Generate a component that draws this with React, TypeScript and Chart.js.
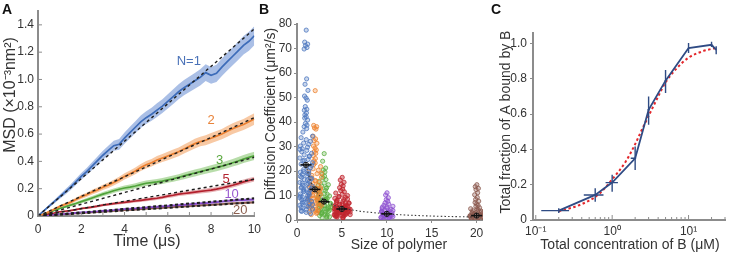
import React, { useEffect, useRef } from 'react';
import { Chart, registerables } from 'chart.js';
Chart.register(...registerables);

const FONT = "'Liberation Sans', Arial, Helvetica, sans-serif";
const TEXT = '#333333';
const AXIS = '#8c8c8c';

// ---------------- Panel A : MSD vs time ----------------
const A_TIME = [0,0.25,0.5,0.75,1,1.25,1.5,1.75,2,2.25,2.5,2.75,3,3.25,3.5,3.75,4,4.25,4.5,4.75,5,5.25,5.5,5.75,6,6.25,6.5,6.75,7,7.25,7.5,7.75,8,8.25,8.5,8.75,9,9.25,9.5,9.75,10];
const A_N1 = [0,0.035,0.07,0.105,0.14,0.175,0.21,0.25,0.29,0.325,0.365,0.405,0.445,0.48,0.515,0.525,0.57,0.61,0.65,0.69,0.72,0.745,0.775,0.805,0.84,0.875,0.91,0.94,0.965,0.99,1.015,1.05,1.03,1.045,1.09,1.13,1.17,1.21,1.25,1.28,1.32];
const A_N2 = [0,0.015,0.03,0.05,0.07,0.085,0.1,0.12,0.14,0.155,0.175,0.19,0.21,0.225,0.245,0.265,0.29,0.31,0.33,0.355,0.375,0.39,0.41,0.425,0.44,0.455,0.47,0.49,0.51,0.53,0.545,0.555,0.57,0.585,0.6,0.62,0.64,0.655,0.67,0.69,0.71];
const A_N3 = [0,0.013,0.027,0.041,0.055,0.067,0.08,0.092,0.105,0.118,0.132,0.146,0.16,0.172,0.185,0.196,0.205,0.212,0.22,0.23,0.24,0.245,0.25,0.256,0.265,0.273,0.283,0.294,0.305,0.315,0.325,0.335,0.345,0.355,0.365,0.377,0.39,0.403,0.417,0.429,0.44];
const A_N5 = [0,0.008,0.015,0.022,0.03,0.035,0.04,0.047,0.055,0.06,0.065,0.072,0.08,0.085,0.09,0.095,0.1,0.105,0.11,0.115,0.12,0.125,0.13,0.137,0.145,0.152,0.16,0.165,0.17,0.175,0.18,0.185,0.19,0.197,0.205,0.215,0.225,0.237,0.25,0.26,0.27];
const A_N10 = [0,0.004,0.007,0.011,0.014,0.016,0.019,0.023,0.026,0.028,0.031,0.034,0.038,0.04,0.043,0.047,0.05,0.052,0.055,0.058,0.062,0.065,0.067,0.07,0.073,0.077,0.08,0.082,0.085,0.089,0.092,0.095,0.098,0.102,0.106,0.11,0.113,0.116,0.117,0.119,0.12];
const A_N20 = [0,0.003,0.006,0.008,0.011,0.014,0.016,0.019,0.021,0.024,0.027,0.029,0.032,0.034,0.037,0.04,0.042,0.045,0.047,0.05,0.053,0.055,0.058,0.06,0.063,0.065,0.068,0.07,0.073,0.075,0.078,0.08,0.082,0.085,0.087,0.09,0.092,0.094,0.096,0.098,0.1];
// half-width of the shaded error bands
const A_BAND_N1 = [0,0.006,0.01,0.013,0.016,0.019,0.021,0.023,0.025,0.027,0.029,0.031,0.033,0.035,0.037,0.039,0.041,0.043,0.044,0.046,0.047,0.048,0.05,0.051,0.052,0.054,0.055,0.056,0.057,0.058,0.06,0.061,0.062,0.063,0.064,0.065,0.066,0.067,0.068,0.069,0.07];
const A_BAND_N2 = [0,0.004,0.006,0.008,0.01,0.011,0.012,0.014,0.015,0.016,0.017,0.018,0.019,0.02,0.021,0.022,0.023,0.024,0.025,0.026,0.027,0.028,0.029,0.03,0.031,0.032,0.032,0.033,0.034,0.035,0.035,0.036,0.037,0.038,0.038,0.039,0.04,0.04,0.041,0.042,0.042];
const A_BAND_N3 = [0,0.003,0.005,0.006,0.008,0.009,0.01,0.011,0.012,0.013,0.014,0.015,0.015,0.016,0.017,0.017,0.018,0.019,0.019,0.02,0.02,0.021,0.021,0.022,0.022,0.023,0.023,0.024,0.024,0.025,0.025,0.026,0.026,0.027,0.027,0.028,0.028,0.029,0.029,0.03,0.03];
const A_BAND_N5 = [0,0.002,0.003,0.004,0.005,0.006,0.006,0.007,0.007,0.008,0.008,0.009,0.009,0.01,0.01,0.011,0.011,0.011,0.012,0.012,0.012,0.013,0.013,0.013,0.014,0.014,0.014,0.015,0.015,0.015,0.015,0.016,0.016,0.016,0.016,0.017,0.017,0.017,0.017,0.018,0.018];
const A_BAND_N10 = [0,0.002,0.003,0.003,0.004,0.004,0.005,0.005,0.005,0.006,0.006,0.006,0.007,0.007,0.007,0.007,0.008,0.008,0.008,0.008,0.008,0.009,0.009,0.009,0.009,0.009,0.01,0.01,0.01,0.01,0.01,0.01,0.011,0.011,0.011,0.011,0.011,0.011,0.012,0.012,0.012];
const A_BAND_N20 = [0,0.002,0.002,0.003,0.003,0.004,0.004,0.004,0.005,0.005,0.005,0.005,0.006,0.006,0.006,0.006,0.007,0.007,0.007,0.007,0.007,0.008,0.008,0.008,0.008,0.008,0.008,0.009,0.009,0.009,0.009,0.009,0.009,0.01,0.01,0.01,0.01,0.01,0.01,0.01,0.011];
// linear fits: MSD at t = 0 and t = 10 us
const A_FIT_END = [1.37, 0.72, 0.43, 0.27, 0.13, 0.1];
const A_LABELS = ['N=1', '2', '3', '5', '10', '20'];
const A_LABEL_T = [6.97, 8.0, 8.39, 8.7, 8.95, 9.35];
const A_LABEL_V = [1.13, 0.7, 0.41, 0.265, 0.16, 0.04];
const A_X_TICKS = [0,1,2,3,4,5,6,7,8,9,10];
const A_Y_TICKS = [0,0.2,0.4,0.6,0.8,1.0,1.2,1.4];

const A_LINE_COLORS = ['#3d6cb9', '#ec8030', '#4fa33a', '#b3202d', '#8446c9', '#8b5a4c'];
const A_BAND_COLORS = ['rgba(118,152,214,0.62)', 'rgba(244,168,108,0.62)', 'rgba(140,200,118,0.62)', 'rgba(214,116,122,0.55)', 'rgba(178,146,228,0.6)', 'rgba(190,158,148,0.6)'];
const A_LABEL_COLORS = ['#4a72b8', '#e8833a', '#5aa83e', '#b32430', '#9a5ad0', '#8c6050'];

// ---------------- Panel B : diffusion coefficient ----------------
const B_SIZES = [1, 2, 3, 5, 10, 20];
const B_MEANS = [22.5, 12.5, 7.5, 4.5, 2.5, 1.8];
const B_D_N1 = [77.5,72.6,71.8,71.2,70.4,69.8,57.6,55.4,52.9,50.6,49.8,48.9,46.3,45.2,44.8,43.7,42.9,42.1,41.6,40.8,39.4,38.7,38.1,37.3,35.9,34.2,33.6,32.8,32.1,31.4,30.9,30.2,29.7,29.1,28.4,27.9,27.2,26.6,25.9,25.3,24.7,24.1,23.4,22.8,21.9,21.3,20.6,20.1,19.5,19.0,18.6,18.1,17.4,16.9,16.5,15.8,15.3,14.9,14.2,13.7,13.1,12.6,12.2,11.5,11.0,10.6,9.9,9.4,8.8,8.3,7.7,7.2,6.6,6.0,5.5,4.9,4.4,3.8,3.1,2.6,19.8,18.9,17.8,16.2,15.1,14.5,13.4,12.9,11.8,10.3,9.1,8.6,7.4,6.3,5.1,4.1,17.1,12.4,10.9,9.7,8.1,6.9,5.8,3.5,22.3,24.4,26.1,28.8];
const B_D_N2 = [52.8,38.6,38.1,37.6,37.1,34.2,33.1,32.4,31.3,30.2,29.4,28.6,27.9,27.2,26.3,25.1,24.2,23.3,22.6,21.8,20.9,20.3,19.6,18.9,18.2,17.5,16.8,16.1,15.4,14.8,14.1,13.5,12.9,12.3,11.7,11.1,10.5,9.9,9.3,8.7,8.1,7.5,6.9,6.3,5.7,5.1,4.5,3.9,3.3,2.7,2.2,15.9,14.4,13.2,12.0,10.8,9.6,8.4,7.2,6.0,4.8,3.6,11.4,10.2,9.0,7.8,6.6,5.4,4.2,13.8,12.6,8.9,7.0,5.9,3.1,17.2,19.1];
const B_D_N3 = [27.1,24.0,21.2,20.4,19.6,18.7,17.9,17.2,16.5,15.8,15.1,14.4,13.8,13.2,12.6,12.0,11.4,10.8,10.3,9.8,9.3,8.8,8.3,7.8,7.3,6.8,6.3,5.8,5.3,4.8,4.3,3.8,3.3,2.8,2.3,1.8,1.3,0.8,10.5,9.5,8.5,7.5,6.5,5.5,4.5,3.5,2.5,1.5,9.0,8.0,7.0,6.0,5.0,4.0,3.0,2.0,11.7,12.9,6.7,5.2,3.7,7.7,4.7,2.9,1.1,14.1,8.6];
const B_D_N5 = [17.4,16.3,15.4,14.6,13.9,13.2,12.6,12.0,11.5,11.0,10.5,10.0,9.6,9.2,8.8,8.4,8.0,7.6,7.2,6.8,6.4,6.0,5.6,5.2,4.8,4.4,4.0,3.6,3.2,2.8,2.4,2.0,1.6,1.2,0.8,7.8,7.0,6.2,5.4,4.6,3.8,3.0,2.2,1.4,6.6,5.8,5.0,4.2,3.4,2.6,1.8,1.0,5.3,4.5,3.7,2.9,2.1,4.9,4.1,3.3,2.5,1.7,8.6,9.4,6.9,5.9,4.3,3.5,2.7,1.9,3.9,3.1,2.3,4.7,5.5];
const B_D_N10 = [11.1,10.2,9.1,8.3,7.6,7.0,6.5,6.0,5.6,5.2,4.8,4.4,4.0,3.7,3.4,3.1,2.8,2.5,2.2,1.9,1.6,1.3,1.0,0.7,0.4,3.9,3.3,2.7,2.1,1.5,0.9,3.6,3.0,2.4,1.8,1.2,2.9,2.3,1.7,1.1,2.6,2.0,1.4,4.6,5.4];
const B_D_N20 = [14.4,13.6,12.9,12.4,11.1,10.3,9.2,8.4,7.7,7.1,6.5,6.0,5.5,5.0,4.6,4.2,3.8,3.4,3.0,2.7,2.4,2.1,1.8,1.5,1.2,0.9,0.6,0.3,3.2,2.6,2.0,1.4,0.8,2.9,2.3,1.7,1.1,0.5,2.2,1.6,1.0,1.9,1.3,0.7,4.4,3.6];
const B_JITTER = [0.12,-0.64,0.83,-0.27,0.49,-0.91,0.31,-0.46,0.97,-0.72,0.04,0.66,-0.35,0.41,-0.83,0.22,-0.55];
const B_FIT_X = [1,1.5,2,2.5,3,4,5,6,7,8,10,12,14,16,18,20];
const B_FIT_Y = [22.5,16,12.3,10,8.3,6.2,5.0,4.2,3.6,3.2,2.5,2.05,1.75,1.5,1.35,1.2];
const B_COLORS = ['#4f79c0', '#ee8533', '#5db043', '#c0262f', '#8e52d0', '#8c5a4f'];
const B_FILLS = ['rgba(79,121,192,0.3)', 'rgba(238,133,51,0.3)', 'rgba(93,176,67,0.3)', 'rgba(192,38,47,0.45)', 'rgba(142,82,208,0.35)', 'rgba(140,90,79,0.35)'];

// ---------------- Panel C : binding curve ----------------
const C_CONC = [0.2, 0.6, 1, 2, 3, 5, 10, 20, 23];
const C_FRAC = [0.053, 0.142, 0.212, 0.35, 0.625, 0.79, 0.975, 0.993, 0.965];
const C_X_LO = [0.118, 0.425, 0.82, 1.75, 2.9, 4.85, 9.8, 19.6, 22.7];
const C_X_HI = [0.273, 0.77, 1.19, 2.06, 3.1, 5.15, 10.2, 20.4, 23.3];
const C_Y_LO = [0.04, 0.104, 0.16, 0.284, 0.54, 0.72, 0.947, 0.98, 0.94];
const C_Y_HI = [0.066, 0.18, 0.256, 0.416, 0.7, 0.85, 1.004, 1.01, 0.985];
const C_FIT_X = [0.2,0.3,0.4,0.5,0.6,0.8,1,1.5,2,2.5,3,4,5,7,10,15,20,23];
const C_FIT_Y = [0.05,0.07,0.09,0.11,0.13,0.18,0.23,0.33,0.43,0.52,0.59,0.7,0.78,0.86,0.92,0.955,0.97,0.975];
const C_X_TICKS = [0.1,0.2,0.3,0.4,0.5,0.6,0.7,0.8,0.9,1,2,3,4,5,6,7,8,9,10,20,30];
const C_MAJOR = [0.1, 1, 10];
const C_MAJOR_LABELS = ['10⁻¹', '10⁰', '10¹'];
const C_Y_TICKS = [0, 0.2, 0.4, 0.6, 0.8, 1.0];
const NAVY = '#2f4b84';

const tickFont = (size: number) => ({ family: FONT, size });

function drawTitle(ctx: CanvasRenderingContext2D, text: string, x: number, y: number, rot: number, size: number) {
  ctx.save();
  ctx.translate(x, y);
  ctx.rotate(rot);
  ctx.font = `${size}px ${FONT}`;
  ctx.fillStyle = TEXT;
  ctx.textAlign = 'center';
  ctx.textBaseline = 'middle';
  ctx.fillText(text, 0, 0);
  ctx.restore();
}

function configA(): any {
  const series = [A_N1, A_N2, A_N3, A_N5, A_N10, A_N20];
  const bands = [A_BAND_N1, A_BAND_N2, A_BAND_N3, A_BAND_N5, A_BAND_N10, A_BAND_N20];
  const pts = (vals: number[]) => A_TIME.map((t, i) => ({ x: t, y: vals[i] }));
  const datasets: any[] = [];
  series.forEach((_, k) => {
    datasets.push({ data: [{ x: 0, y: 0 }, { x: 10, y: A_FIT_END[k] }], borderColor: '#1e1e1e', borderDash: k >= 4 ? [3, 2.5] : [3, 3], borderWidth: k >= 4 ? 2 : 1.4, pointRadius: 0 });
  });
  series.forEach((s, k) => {
    datasets.push({ data: pts(s), borderColor: A_LINE_COLORS[k], borderWidth: 1.7, pointRadius: 0, tension: 0 });
  });
  series.forEach((s, k) => {
    const b = bands[k];
    datasets.push({ data: A_TIME.map((t, i) => ({ x: t, y: s[i] + b[i] })), borderWidth: 0, pointRadius: 0, fill: '+1', backgroundColor: A_BAND_COLORS[k] });
    datasets.push({ data: A_TIME.map((t, i) => ({ x: t, y: s[i] - b[i] })), borderWidth: 0, pointRadius: 0, fill: false });
  });
  return {
    type: 'line',
    data: { datasets },
    options: {
      animation: false, responsive: false, devicePixelRatio: 1,
      layout: { padding: { left: 0, right: 12, top: 7, bottom: 0 } },
      plugins: { legend: { display: false }, tooltip: { enabled: false } },
      scales: {
        x: {
          type: 'linear', min: 0, max: 10,
          afterFit: (s: any) => { s.height = 40; },
          afterBuildTicks: (s: any) => { s.ticks = A_X_TICKS.map(v => ({ value: v })); },
          grid: { display: false, drawTicks: false }, border: { display: true, color: AXIS, width: 2 },
          ticks: { autoSkip: false, maxRotation: 0, padding: 6, color: TEXT, font: tickFont(12), callback: (v: number) => (v % 2 === 0 ? String(v) : '') },
        },
        y: {
          min: 0, max: 1.5,
          afterFit: (s: any) => { s.width = 38; },
          afterBuildTicks: (s: any) => { s.ticks = A_Y_TICKS.map(v => ({ value: v })); },
          grid: { display: false, drawTicks: false }, border: { display: true, color: AXIS, width: 2 },
          ticks: { padding: 4, color: TEXT, font: tickFont(12), callback: (v: number) => (v === 0 ? '0' : Number(v).toFixed(1)) },
        },
      },
    },
    plugins: [{
      id: 'aDecor',
      afterDraw(chart: any) {
        const { ctx, chartArea } = chart;
        const xs = chart.scales.x, ys = chart.scales.y;
        ctx.save();
        ctx.strokeStyle = AXIS; ctx.lineWidth = 1;
        xs.ticks.forEach((t: any) => { const p = xs.getPixelForValue(t.value); ctx.beginPath(); ctx.moveTo(p, chartArea.bottom); ctx.lineTo(p, chartArea.bottom - 4); ctx.stroke(); });
        ys.ticks.forEach((t: any) => { const p = ys.getPixelForValue(t.value); ctx.beginPath(); ctx.moveTo(chartArea.left, p); ctx.lineTo(chartArea.left + 4, p); ctx.stroke(); });
        ctx.font = `13px ${FONT}`; ctx.textAlign = 'center'; ctx.textBaseline = 'middle';
        A_LABELS.forEach((l, k) => { ctx.fillStyle = A_LABEL_COLORS[k]; ctx.fillText(l, xs.getPixelForValue(A_LABEL_T[k]), ys.getPixelForValue(A_LABEL_V[k])); });
        ctx.restore();
        drawTitle(ctx, 'Time (μs)', 147, 242, 0, 16);
        drawTitle(ctx, 'MSD (×10⁻³nm²)', 11, 95, -Math.PI / 2, 16);
      },
    }],
  };
}

function configB(): any {
  const clusters = [B_D_N1, B_D_N2, B_D_N3, B_D_N5, B_D_N10, B_D_N20];
  const halfW = [0.75, 0.75, 0.75, 0.95, 0.7, 0.8];
  const denseTop = [36, 22, 16, 11, 6.5, 5];
  const datasets: any[] = [];
  const means = B_SIZES.map((n, i) => ({ x: n, y: B_MEANS[i] }));
  datasets.push({ type: 'scatter', data: means, pointStyle: 'line', pointRadius: 5.5, borderColor: '#111', borderWidth: 1.6 });
  datasets.push({ type: 'scatter', data: means, pointStyle: 'line', rotation: 90, pointRadius: 2.5, borderColor: '#111', borderWidth: 1.2 });
  datasets.push({ type: 'scatter', data: means, pointStyle: 'circle', pointRadius: 2.6, borderColor: '#111', borderWidth: 1, backgroundColor: 'rgba(255,255,255,0.25)' });
  datasets.push({ type: 'line', data: B_FIT_X.map((x, i) => ({ x, y: B_FIT_Y[i] })), borderColor: '#3a3a3a', borderDash: [1.5, 2.2], borderWidth: 1.1, pointRadius: 0, tension: 0.35 });
  clusters.forEach((vals, k) => {
    datasets.push({
      type: 'scatter',
      data: vals.map((v, i) => ({ x: B_SIZES[k] + B_JITTER[i % B_JITTER.length] * halfW[k] * (v > denseTop[k] ? 0.3 : 1), y: v })),
      pointStyle: 'circle', pointRadius: 2.1, borderWidth: 0.8, borderColor: B_COLORS[k], backgroundColor: B_FILLS[k],
    });
  });
  return {
    type: 'scatter',
    data: { datasets },
    options: {
      animation: false, responsive: false, devicePixelRatio: 1,
      layout: { padding: { left: 0, right: 7, top: 24, bottom: 0 } },
      plugins: { legend: { display: false }, tooltip: { enabled: false } },
      scales: {
        x: {
          type: 'linear', min: 0, max: 20.7,
          afterFit: (s: any) => { s.height = 36; },
          afterBuildTicks: (s: any) => { s.ticks = [0, 5, 10, 15, 20].map(v => ({ value: v })); },
          grid: { display: true, drawOnChartArea: false, drawTicks: true, tickLength: 3, color: AXIS },
          border: { display: true, color: AXIS, width: 2 },
          ticks: { autoSkip: false, maxRotation: 0, padding: 3, color: TEXT, font: tickFont(12) },
        },
        y: {
          min: 0, max: 80,
          afterFit: (s: any) => { s.width = 42; },
          afterBuildTicks: (s: any) => { s.ticks = [0, 10, 20, 30, 40, 50, 60, 70, 80].map(v => ({ value: v })); },
          grid: { display: true, drawOnChartArea: false, drawTicks: true, tickLength: 3, color: AXIS },
          border: { display: true, color: AXIS, width: 2 },
          ticks: { padding: 2, color: TEXT, font: tickFont(12) },
        },
      },
    },
    plugins: [{
      id: 'bDecor',
      afterDraw(chart: any) {
        const { ctx } = chart;
        drawTitle(ctx, 'Size of polymer', 144, 245, 0, 14);
        drawTitle(ctx, 'Diffusion Coefficient (μm²/s)', 16, 114, -Math.PI / 2, 14);
      },
    }],
  };
}

function configC(): any {
  return {
    type: 'line',
    data: {
      datasets: [
        { data: C_CONC.map((x, i) => ({ x, y: C_FRAC[i] })), borderColor: NAVY, borderWidth: 1.8, pointRadius: 0, tension: 0 },
        { data: C_FIT_X.map((x, i) => ({ x, y: C_FIT_Y[i] })), borderColor: '#e3262b', borderDash: [2.5, 2.5], borderWidth: 2, pointRadius: 0, cubicInterpolationMode: 'monotone' },
      ],
    },
    options: {
      animation: false, responsive: false, devicePixelRatio: 1,
      layout: { padding: { left: 0, right: 1, top: 33, bottom: 0 } },
      plugins: { legend: { display: false }, tooltip: { enabled: false } },
      scales: {
        x: {
          type: 'logarithmic', min: 0.092, max: 30,
          afterFit: (s: any) => { s.height = 36; },
          afterBuildTicks: (s: any) => { s.ticks = C_X_TICKS.map(v => ({ value: v })); },
          grid: { display: false, drawTicks: false }, border: { display: true, color: AXIS, width: 2 },
          ticks: {
            autoSkip: false, maxRotation: 0, padding: 4, color: TEXT, font: tickFont(12),
            callback: (v: number) => { const i = C_MAJOR.findIndex(m => Math.abs(m - v) < 1e-9); return i >= 0 ? C_MAJOR_LABELS[i] : ''; },
          },
        },
        y: {
          min: 0, max: 1.06,
          afterFit: (s: any) => { s.width = 43; },
          afterBuildTicks: (s: any) => { s.ticks = C_Y_TICKS.map(v => ({ value: v })); },
          grid: { display: true, drawOnChartArea: false, drawTicks: true, tickLength: 3, color: AXIS },
          border: { display: true, color: AXIS, width: 2 },
          ticks: { padding: 3, color: TEXT, font: tickFont(12), callback: (v: number) => (v === 0 ? '0' : Number(v).toFixed(1)) },
        },
      },
    },
    plugins: [{
      id: 'cDecor',
      afterDatasetsDraw(chart: any) {
        const { ctx } = chart;
        const xs = chart.scales.x, ys = chart.scales.y;
        ctx.save();
        ctx.strokeStyle = NAVY; ctx.lineWidth = 1.4;
        C_CONC.forEach((x, i) => {
          const px = xs.getPixelForValue(x), py = ys.getPixelForValue(C_FRAC[i]);
          ctx.beginPath();
          ctx.moveTo(xs.getPixelForValue(C_X_LO[i]), py); ctx.lineTo(xs.getPixelForValue(C_X_HI[i]), py);
          ctx.moveTo(px, ys.getPixelForValue(C_Y_LO[i])); ctx.lineTo(px, ys.getPixelForValue(C_Y_HI[i]));
          ctx.stroke();
        });
        ctx.restore();
      },
      afterDraw(chart: any) {
        const { ctx, chartArea } = chart;
        const xs = chart.scales.x;
        ctx.save();
        ctx.strokeStyle = AXIS; ctx.lineWidth = 1;
        C_X_TICKS.forEach(v => {
          const p = xs.getPixelForValue(v);
          const major = C_MAJOR.some(m => Math.abs(m - v) < 1e-9);
          ctx.beginPath(); ctx.moveTo(p, chartArea.bottom); ctx.lineTo(p, chartArea.bottom - (major ? 5 : 3)); ctx.stroke();
        });
        ctx.restore();
        drawTitle(ctx, 'Total concentration of B (μM)', 140, 245, 0, 14);
        drawTitle(ctx, 'Total fraction of A bound by B', 16, 122, -Math.PI / 2, 14);
      },
    }],
  };
}

function ChartCanvas({ make, left, width }: { make: () => any; left: number; width: number }) {
  const ref = useRef<HTMLCanvasElement | null>(null);
  useEffect(() => {
    if (!ref.current) return;
    const chart = new Chart(ref.current, make());
    return () => chart.destroy();
  }, []);
  return <canvas ref={ref} width={width} height={256} style={{ position: 'absolute', left, top: 0 }} />;
}

const letterStyle = (left: number): React.CSSProperties => ({
  position: 'absolute', left, top: 2, fontFamily: FONT, fontWeight: 'bold', fontSize: 14, lineHeight: '14px', color: '#111',
});

export default function App() {
  useEffect(() => { document.body.style.margin = '0'; }, []);
  return (
    <div style={{ position: 'relative', width: 729, height: 256, background: '#fff', overflow: 'hidden' }}>
      <ChartCanvas make={configA} left={0} width={267} />
      <ChartCanvas make={configB} left={255} width={235} />
      <ChartCanvas make={configC} left={490} width={239} />
      <div style={letterStyle(2)}>A</div>
      <div style={letterStyle(259)}>B</div>
      <div style={letterStyle(491)}>C</div>
    </div>
  );
}
